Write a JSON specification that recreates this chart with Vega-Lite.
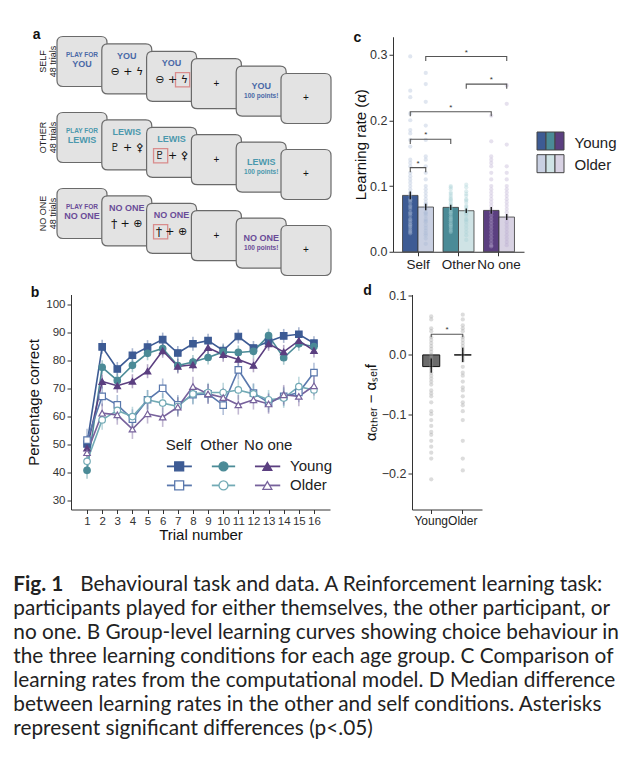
{
"$schema": "https://vega.github.io/schema/vega-lite/v6.json",
"background": "white",
"padding": {"left": 13, "top": 27.5, "right": 0, "bottom": 0},
"config": {
  "view": {"stroke": null},
  "font": "Liberation Sans Narrow, Liberation Sans, sans-serif",
  "axis": {"grid": false, "domainColor": "#333", "tickColor": "#333", "labelColor": "#333", "titleColor": "#111", "tickSize": 4, "labelOverlap": false, "labelFont": "Liberation Sans Narrow, Liberation Sans, sans-serif", "titleFont": "Liberation Sans Narrow, Liberation Sans, sans-serif", "titleFontWeight": "normal", "labelFontSize": 12, "titleFontSize": 15},
  "title": {"font": "Liberation Sans, sans-serif", "fontSize": 14, "fontWeight": "bold", "anchor": "start", "frame": "bounds", "offset": 0, "dy": 12, "color": "#111"}
},
"spacing": 5,
"resolve": {"scale": {"color": "independent", "fill": "independent", "stroke": "independent", "shape": "independent"}},
"datasets": {
  "cards": [
    {"row":"SELF","col":1},{"row":"SELF","col":2},{"row":"SELF","col":3},{"row":"SELF","col":4},{"row":"SELF","col":5},{"row":"SELF","col":6},
    {"row":"OTHER","col":1},{"row":"OTHER","col":2},{"row":"OTHER","col":3},{"row":"OTHER","col":4},{"row":"OTHER","col":5},{"row":"OTHER","col":6},
    {"row":"NO ONE","col":1},{"row":"NO ONE","col":2},{"row":"NO ONE","col":3},{"row":"NO ONE","col":4},{"row":"NO ONE","col":5},{"row":"NO ONE","col":6}
  ],
  "alab": [
    {"row":"SELF","t":"SELF\n48 trials","lx":0.125,"lc":1},
    {"row":"OTHER","t":"OTHER\n48 trials","lx":0.125,"lc":1},
    {"row":"NO ONE","t":"NO ONE\n48 trials","lx":0.125,"lc":1}
  ],
  "ahl": [
    {"row":"SELF","hx":3.245,"hy":3.47},
    {"row":"OTHER","hx":2.755,"hy":3.47},
    {"row":"NO ONE","hx":2.755,"hy":3.47}
  ],
  "atext": [
    {"row":"SELF","col":1,"k":"pf","t":"PLAY FOR"},
    {"row":"SELF","col":1,"k":"n1","t":"YOU"},
    {"row":"SELF","col":2,"k":"nt","t":"YOU"},
    {"row":"SELF","col":3,"k":"nt","t":"YOU"},
    {"row":"SELF","col":2,"k":"sy","t":"⊖ + ϟ"},
    {"row":"SELF","col":3,"k":"sy","t":"⊖ + ϟ"},
    {"row":"SELF","col":4,"k":"pl","t":"+"},
    {"row":"SELF","col":5,"k":"n5","t":"YOU"},
    {"row":"SELF","col":5,"k":"pt","t":"100 points!"},
    {"row":"SELF","col":6,"k":"pl","t":"+"},
    {"row":"OTHER","col":1,"k":"pf","t":"PLAY FOR"},
    {"row":"OTHER","col":1,"k":"n1","t":"LEWIS"},
    {"row":"OTHER","col":2,"k":"nt","t":"LEWIS"},
    {"row":"OTHER","col":3,"k":"nt","t":"LEWIS"},
    {"row":"OTHER","col":2,"k":"sy","t":"♇ + ⚴"},
    {"row":"OTHER","col":3,"k":"sy","t":"♇ + ⚴"},
    {"row":"OTHER","col":4,"k":"pl","t":"+"},
    {"row":"OTHER","col":5,"k":"n5","t":"LEWIS"},
    {"row":"OTHER","col":5,"k":"pt","t":"100 points!"},
    {"row":"OTHER","col":6,"k":"pl","t":"+"},
    {"row":"NO ONE","col":1,"k":"pf","t":"PLAY FOR"},
    {"row":"NO ONE","col":1,"k":"n1","t":"NO ONE"},
    {"row":"NO ONE","col":2,"k":"nt","t":"NO ONE"},
    {"row":"NO ONE","col":3,"k":"nt","t":"NO ONE"},
    {"row":"NO ONE","col":2,"k":"sy","t":"ϯ + ⊕"},
    {"row":"NO ONE","col":3,"k":"sy","t":"ϯ + ⊕"},
    {"row":"NO ONE","col":4,"k":"pl","t":"+"},
    {"row":"NO ONE","col":5,"k":"n5","t":"NO ONE"},
    {"row":"NO ONE","col":5,"k":"pt","t":"100 points!"},
    {"row":"NO ONE","col":6,"k":"pl","t":"+"}
  ],
  "curves": [
    {"g":"SY","t":1,"p":50.1,"e":3},{"g":"SY","t":2,"p":84.8,"e":2.5},{"g":"SY","t":3,"p":76.9,"e":2.5},{"g":"SY","t":4,"p":81.8,"e":2.5},{"g":"SY","t":5,"p":84.7,"e":2.5},{"g":"SY","t":6,"p":87.4,"e":2.5},{"g":"SY","t":7,"p":82.6,"e":2.5},{"g":"SY","t":8,"p":85.9,"e":2.5},{"g":"SY","t":9,"p":87.0,"e":2.5},{"g":"SY","t":10,"p":83.5,"e":2.5},{"g":"SY","t":11,"p":88.5,"e":2.5},{"g":"SY","t":12,"p":84.4,"e":2.5},{"g":"SY","t":13,"p":86.7,"e":2.5},{"g":"SY","t":14,"p":88.7,"e":2.5},{"g":"SY","t":15,"p":89.3,"e":2.5},{"g":"SY","t":16,"p":86.1,"e":2.5},
    {"g":"OY","t":1,"p":40.7,"e":3},{"g":"OY","t":2,"p":77.5,"e":2.5},{"g":"OY","t":3,"p":72.8,"e":2.5},{"g":"OY","t":4,"p":78.2,"e":2.5},{"g":"OY","t":5,"p":82.5,"e":2.5},{"g":"OY","t":6,"p":84.2,"e":2.5},{"g":"OY","t":7,"p":78.1,"e":2.5},{"g":"OY","t":8,"p":79.4,"e":2.5},{"g":"OY","t":9,"p":81.0,"e":2.5},{"g":"OY","t":10,"p":83.0,"e":2.5},{"g":"OY","t":11,"p":82.8,"e":2.5},{"g":"OY","t":12,"p":83.2,"e":2.5},{"g":"OY","t":13,"p":88.8,"e":2.5},{"g":"OY","t":14,"p":80.9,"e":2.5},{"g":"OY","t":15,"p":85.9,"e":2.5},{"g":"OY","t":16,"p":84.9,"e":2.5},
    {"g":"NY","t":1,"p":48.6,"e":3},{"g":"NY","t":2,"p":72.4,"e":2.5},{"g":"NY","t":3,"p":70.9,"e":2.5},{"g":"NY","t":4,"p":72.5,"e":2.5},{"g":"NY","t":5,"p":76.1,"e":2.5},{"g":"NY","t":6,"p":83.4,"e":2.5},{"g":"NY","t":7,"p":77.8,"e":2.5},{"g":"NY","t":8,"p":78.4,"e":2.5},{"g":"NY","t":9,"p":84.5,"e":2.5},{"g":"NY","t":10,"p":82.0,"e":2.5},{"g":"NY","t":11,"p":80.3,"e":2.5},{"g":"NY","t":12,"p":78.2,"e":2.5},{"g":"NY","t":13,"p":85.9,"e":2.5},{"g":"NY","t":14,"p":83.0,"e":2.5},{"g":"NY","t":15,"p":87.0,"e":2.5},{"g":"NY","t":16,"p":83.5,"e":2.5},
    {"g":"SO","t":1,"p":51.5,"e":4},{"g":"SO","t":2,"p":67.1,"e":3.5},{"g":"SO","t":3,"p":64.1,"e":3.5},{"g":"SO","t":4,"p":59.0,"e":3.5},{"g":"SO","t":5,"p":65.9,"e":3.5},{"g":"SO","t":6,"p":70.0,"e":3.5},{"g":"SO","t":7,"p":64.1,"e":3.5},{"g":"SO","t":8,"p":67.7,"e":3.5},{"g":"SO","t":9,"p":68.0,"e":3.5},{"g":"SO","t":10,"p":64.0,"e":3.5},{"g":"SO","t":11,"p":76.6,"e":3.5},{"g":"SO","t":12,"p":68.3,"e":3.5},{"g":"SO","t":13,"p":64.9,"e":3.5},{"g":"SO","t":14,"p":67.1,"e":3.5},{"g":"SO","t":15,"p":68.5,"e":3.5},{"g":"SO","t":16,"p":75.6,"e":3.5},
    {"g":"OO","t":1,"p":43.9,"e":4},{"g":"OO","t":2,"p":58.7,"e":3.5},{"g":"OO","t":3,"p":62.1,"e":3.5},{"g":"OO","t":4,"p":59.9,"e":3.5},{"g":"OO","t":5,"p":65.9,"e":3.5},{"g":"OO","t":6,"p":64.7,"e":3.5},{"g":"OO","t":7,"p":63.5,"e":3.5},{"g":"OO","t":8,"p":68.0,"e":3.5},{"g":"OO","t":9,"p":68.5,"e":3.5},{"g":"OO","t":10,"p":68.5,"e":3.5},{"g":"OO","t":11,"p":69.4,"e":3.5},{"g":"OO","t":12,"p":68.0,"e":3.5},{"g":"OO","t":13,"p":65.9,"e":3.5},{"g":"OO","t":14,"p":66.5,"e":3.5},{"g":"OO","t":15,"p":70.6,"e":3.5},{"g":"OO","t":16,"p":69.4,"e":3.5},
    {"g":"NO","t":1,"p":47.0,"e":4},{"g":"NO","t":2,"p":61.1,"e":3.5},{"g":"NO","t":3,"p":60.5,"e":3.5},{"g":"NO","t":4,"p":55.4,"e":3.5},{"g":"NO","t":5,"p":60.9,"e":3.5},{"g":"NO","t":6,"p":59.7,"e":3.5},{"g":"NO","t":7,"p":63.3,"e":3.5},{"g":"NO","t":8,"p":70.6,"e":3.5},{"g":"NO","t":9,"p":68.0,"e":3.5},{"g":"NO","t":10,"p":66.7,"e":3.5},{"g":"NO","t":11,"p":64.1,"e":3.5},{"g":"NO","t":12,"p":65.9,"e":3.5},{"g":"NO","t":13,"p":64.4,"e":3.5},{"g":"NO","t":14,"p":67.7,"e":3.5},{"g":"NO","t":15,"p":67.1,"e":3.5},{"g":"NO","t":16,"p":70.9,"e":3.5}
  ],
  "bleg": [
    {"g":"SY","t":7.09,"p":42.1,"t1":6.28,"t2":7.93},{"g":"SO","t":7.09,"p":35.3,"t1":6.28,"t2":7.93},
    {"g":"OY","t":10.02,"p":42.1,"t1":9.25,"t2":10.79},{"g":"OO","t":10.02,"p":35.3,"t1":9.25,"t2":10.79},
    {"g":"NY","t":12.92,"p":42.1,"t1":12.1,"t2":13.77},{"g":"NO","t":12.92,"p":35.3,"t1":12.1,"t2":13.77}
  ],
  "bhead": [{"t":7.05,"p":49.6,"s":"Self"},{"t":9.73,"p":49.6,"s":"Other"},{"t":12.98,"p":49.6,"s":"No one"}],
  "brow": [{"t":14.42,"p":42.1,"s":"Young"},{"t":14.42,"p":35.3,"s":"Older"}],
  "cbars": [
    {"c":"Self","a":"Young","g":"SY","v":0.0857,"lo":0.0797,"hi":0.0917},
    {"c":"Self","a":"Older","g":"SO","v":0.068,"lo":0.063,"hi":0.073},
    {"c":"Other","a":"Young","g":"OY","v":0.0675,"lo":0.0635,"hi":0.0715},
    {"c":"Other","a":"Older","g":"OO","v":0.0624,"lo":0.0589,"hi":0.0659},
    {"c":"No one","a":"Young","g":"NY","v":0.0629,"lo":0.0579,"hi":0.0679},
    {"c":"No one","a":"Older","g":"NO","v":0.0528,"lo":0.0483,"hi":0.0573}
  ],
  "cdots": [
    {"c":"Self","a":"Young","v":0.297},{"c":"Self","a":"Young","v":0.245},{"c":"Self","a":"Young","v":0.235},{"c":"Self","a":"Young","v":0.21},{"c":"Self","a":"Young","v":0.2},{"c":"Self","a":"Young","v":0.185},{"c":"Self","a":"Young","v":0.18},{"c":"Self","a":"Young","v":0.17},{"c":"Self","a":"Young","v":0.16},{"c":"Self","a":"Young","v":0.14},{"c":"Self","a":"Young","v":0.135},{"c":"Self","a":"Young","v":0.13},{"c":"Self","a":"Young","v":0.12},{"c":"Self","a":"Young","v":0.115},{"c":"Self","a":"Young","v":0.11},{"c":"Self","a":"Young","v":0.105},{"c":"Self","a":"Young","v":0.1},{"c":"Self","a":"Young","v":0.095},{"c":"Self","a":"Young","v":0.09},{"c":"Self","a":"Young","v":0.088},{"c":"Self","a":"Young","v":0.085},{"c":"Self","a":"Young","v":0.08},{"c":"Self","a":"Young","v":0.078},{"c":"Self","a":"Young","v":0.075},{"c":"Self","a":"Young","v":0.07},{"c":"Self","a":"Young","v":0.068},{"c":"Self","a":"Young","v":0.065},{"c":"Self","a":"Young","v":0.06},{"c":"Self","a":"Young","v":0.058},{"c":"Self","a":"Young","v":0.055},{"c":"Self","a":"Young","v":0.05},{"c":"Self","a":"Young","v":0.048},{"c":"Self","a":"Young","v":0.045},{"c":"Self","a":"Young","v":0.042},{"c":"Self","a":"Young","v":0.04},{"c":"Self","a":"Young","v":0.038},{"c":"Self","a":"Young","v":0.035},{"c":"Self","a":"Young","v":0.032},{"c":"Self","a":"Young","v":0.03},{"c":"Self","a":"Young","v":0.028},
    {"c":"Self","a":"Older","v":0.272},{"c":"Self","a":"Older","v":0.255},{"c":"Self","a":"Older","v":0.228},{"c":"Self","a":"Older","v":0.192},{"c":"Self","a":"Older","v":0.17},{"c":"Self","a":"Older","v":0.145},{"c":"Self","a":"Older","v":0.14},{"c":"Self","a":"Older","v":0.13},{"c":"Self","a":"Older","v":0.12},{"c":"Self","a":"Older","v":0.11},{"c":"Self","a":"Older","v":0.1},{"c":"Self","a":"Older","v":0.095},{"c":"Self","a":"Older","v":0.09},{"c":"Self","a":"Older","v":0.085},{"c":"Self","a":"Older","v":0.08},{"c":"Self","a":"Older","v":0.075},{"c":"Self","a":"Older","v":0.072},{"c":"Self","a":"Older","v":0.07},{"c":"Self","a":"Older","v":0.065},{"c":"Self","a":"Older","v":0.06},{"c":"Self","a":"Older","v":0.058},{"c":"Self","a":"Older","v":0.055},{"c":"Self","a":"Older","v":0.05},{"c":"Self","a":"Older","v":0.047},{"c":"Self","a":"Older","v":0.045},{"c":"Self","a":"Older","v":0.04},{"c":"Self","a":"Older","v":0.036},{"c":"Self","a":"Older","v":0.032},{"c":"Self","a":"Older","v":0.028},{"c":"Self","a":"Older","v":0.025},{"c":"Self","a":"Older","v":0.02},{"c":"Self","a":"Older","v":0.012},
    {"c":"Other","a":"Young","v":0.1},{"c":"Other","a":"Young","v":0.098},{"c":"Other","a":"Young","v":0.095},{"c":"Other","a":"Young","v":0.09},{"c":"Other","a":"Young","v":0.088},{"c":"Other","a":"Young","v":0.085},{"c":"Other","a":"Young","v":0.082},{"c":"Other","a":"Young","v":0.08},{"c":"Other","a":"Young","v":0.078},{"c":"Other","a":"Young","v":0.075},{"c":"Other","a":"Young","v":0.072},{"c":"Other","a":"Young","v":0.07},{"c":"Other","a":"Young","v":0.068},{"c":"Other","a":"Young","v":0.065},{"c":"Other","a":"Young","v":0.062},{"c":"Other","a":"Young","v":0.06},{"c":"Other","a":"Young","v":0.058},{"c":"Other","a":"Young","v":0.055},{"c":"Other","a":"Young","v":0.052},{"c":"Other","a":"Young","v":0.05},{"c":"Other","a":"Young","v":0.048},{"c":"Other","a":"Young","v":0.045},{"c":"Other","a":"Young","v":0.042},{"c":"Other","a":"Young","v":0.04},{"c":"Other","a":"Young","v":0.038},{"c":"Other","a":"Young","v":0.035},{"c":"Other","a":"Young","v":0.032},{"c":"Other","a":"Young","v":0.03},
    {"c":"Other","a":"Older","v":0.102},{"c":"Other","a":"Older","v":0.098},{"c":"Other","a":"Older","v":0.092},{"c":"Other","a":"Older","v":0.088},{"c":"Other","a":"Older","v":0.085},{"c":"Other","a":"Older","v":0.08},{"c":"Other","a":"Older","v":0.078},{"c":"Other","a":"Older","v":0.075},{"c":"Other","a":"Older","v":0.07},{"c":"Other","a":"Older","v":0.068},{"c":"Other","a":"Older","v":0.065},{"c":"Other","a":"Older","v":0.062},{"c":"Other","a":"Older","v":0.06},{"c":"Other","a":"Older","v":0.058},{"c":"Other","a":"Older","v":0.055},{"c":"Other","a":"Older","v":0.05},{"c":"Other","a":"Older","v":0.048},{"c":"Other","a":"Older","v":0.045},{"c":"Other","a":"Older","v":0.04},{"c":"Other","a":"Older","v":0.035},{"c":"Other","a":"Older","v":0.03},{"c":"Other","a":"Older","v":0.025},{"c":"Other","a":"Older","v":0.018},
    {"c":"No one","a":"Young","v":0.207},{"c":"No one","a":"Young","v":0.168},{"c":"No one","a":"Young","v":0.145},{"c":"No one","a":"Young","v":0.14},{"c":"No one","a":"Young","v":0.135},{"c":"No one","a":"Young","v":0.13},{"c":"No one","a":"Young","v":0.12},{"c":"No one","a":"Young","v":0.11},{"c":"No one","a":"Young","v":0.1},{"c":"No one","a":"Young","v":0.095},{"c":"No one","a":"Young","v":0.09},{"c":"No one","a":"Young","v":0.085},{"c":"No one","a":"Young","v":0.08},{"c":"No one","a":"Young","v":0.075},{"c":"No one","a":"Young","v":0.07},{"c":"No one","a":"Young","v":0.065},{"c":"No one","a":"Young","v":0.06},{"c":"No one","a":"Young","v":0.055},{"c":"No one","a":"Young","v":0.05},{"c":"No one","a":"Young","v":0.045},{"c":"No one","a":"Young","v":0.04},{"c":"No one","a":"Young","v":0.035},{"c":"No one","a":"Young","v":0.03},{"c":"No one","a":"Young","v":0.025},{"c":"No one","a":"Young","v":0.02},{"c":"No one","a":"Young","v":0.015},{"c":"No one","a":"Young","v":0.01},{"c":"No one","a":"Young","v":0.008},
    {"c":"No one","a":"Older","v":0.253},{"c":"No one","a":"Older","v":0.225},{"c":"No one","a":"Older","v":0.163},{"c":"No one","a":"Older","v":0.13},{"c":"No one","a":"Older","v":0.12},{"c":"No one","a":"Older","v":0.11},{"c":"No one","a":"Older","v":0.1},{"c":"No one","a":"Older","v":0.095},{"c":"No one","a":"Older","v":0.09},{"c":"No one","a":"Older","v":0.085},{"c":"No one","a":"Older","v":0.08},{"c":"No one","a":"Older","v":0.075},{"c":"No one","a":"Older","v":0.07},{"c":"No one","a":"Older","v":0.065},{"c":"No one","a":"Older","v":0.06},{"c":"No one","a":"Older","v":0.055},{"c":"No one","a":"Older","v":0.05},{"c":"No one","a":"Older","v":0.045},{"c":"No one","a":"Older","v":0.04},{"c":"No one","a":"Older","v":0.035},{"c":"No one","a":"Older","v":0.03},{"c":"No one","a":"Older","v":0.025},{"c":"No one","a":"Older","v":0.02},{"c":"No one","a":"Older","v":0.015},{"c":"No one","a":"Older","v":0.01}
  ],
  "cbrk": [
    {"id":1,"o":0,"c":"Self","a":"Young","v":0.121},{"id":1,"o":1,"c":"Self","a":"Young","v":0.128},{"id":1,"o":2,"c":"Self","a":"Older","v":0.128},{"id":1,"o":3,"c":"Self","a":"Older","v":0.121},
    {"id":2,"o":0,"c":"Self","a":"Young","v":0.164},{"id":2,"o":1,"c":"Self","a":"Young","v":0.171},{"id":2,"o":2,"c":"Other","a":"Young","v":0.171},{"id":2,"o":3,"c":"Other","a":"Young","v":0.164},
    {"id":3,"o":0,"c":"Self","a":"Young","v":0.206},{"id":3,"o":1,"c":"Self","a":"Young","v":0.213},{"id":3,"o":2,"c":"No one","a":"Young","v":0.213},{"id":3,"o":3,"c":"No one","a":"Young","v":0.206},
    {"id":4,"o":0,"c":"Other","a":"Older","v":0.248},{"id":4,"o":1,"c":"Other","a":"Older","v":0.255},{"id":4,"o":2,"c":"No one","a":"Older","v":0.255},{"id":4,"o":3,"c":"No one","a":"Older","v":0.248},
    {"id":5,"o":0,"c":"Self","a":"Older","v":0.29},{"id":5,"o":1,"c":"Self","a":"Older","v":0.297},{"id":5,"o":2,"c":"No one","a":"Older","v":0.297},{"id":5,"o":3,"c":"No one","a":"Older","v":0.29}
  ],
  "cstar": [
    {"c":"Self","a":"Older","v":0.178},{"c":"Other","a":"Young","v":0.219},{"c":"No one","a":"Young","v":0.261},{"c":"Other","a":"Older","v":0.303}
  ],
  "cstar1": [{"c":"Self","v":0.134}],
  "cleg": [
    {"c":"Self","a":"Young","g":"SY"},{"c":"Other","a":"Young","g":"OY"},{"c":"No one","a":"Young","g":"NY"},
    {"c":"Self","a":"Older","g":"SO"},{"c":"Other","a":"Older","g":"OO"},{"c":"No one","a":"Older","g":"NO"}
  ],
  "dbars": [
    {"g":"Young","v":-0.0197,"lo":-0.030,"hi":-0.006},
    {"g":"Older","v":0.0,"lo":-0.012,"hi":0.012}
  ],
  "ddots": [
    {"g":"Young","v":0.065},{"g":"Young","v":0.06},{"g":"Young","v":0.045},{"g":"Young","v":0.04},{"g":"Young","v":0.03},{"g":"Young","v":0.025},{"g":"Young","v":0.02},{"g":"Young","v":0.015},{"g":"Young","v":0.01},{"g":"Young","v":0.005},{"g":"Young","v":0.0},{"g":"Young","v":-0.005},{"g":"Young","v":-0.01},{"g":"Young","v":-0.015},{"g":"Young","v":-0.02},{"g":"Young","v":-0.025},{"g":"Young","v":-0.03},{"g":"Young","v":-0.035},{"g":"Young","v":-0.04},{"g":"Young","v":-0.045},{"g":"Young","v":-0.05},{"g":"Young","v":-0.06},{"g":"Young","v":-0.065},{"g":"Young","v":-0.07},{"g":"Young","v":-0.08},{"g":"Young","v":-0.095},{"g":"Young","v":-0.1},{"g":"Young","v":-0.11},{"g":"Young","v":-0.12},{"g":"Young","v":-0.13},{"g":"Young","v":-0.135},{"g":"Young","v":-0.145},{"g":"Young","v":-0.155},{"g":"Young","v":-0.165},{"g":"Young","v":-0.175},{"g":"Young","v":-0.21},
    {"g":"Older","v":0.068},{"g":"Older","v":0.06},{"g":"Older","v":0.05},{"g":"Older","v":0.045},{"g":"Older","v":0.04},{"g":"Older","v":0.03},{"g":"Older","v":0.025},{"g":"Older","v":0.02},{"g":"Older","v":0.015},{"g":"Older","v":0.01},{"g":"Older","v":0.005},{"g":"Older","v":0.0},{"g":"Older","v":-0.005},{"g":"Older","v":-0.01},{"g":"Older","v":-0.02},{"g":"Older","v":-0.03},{"g":"Older","v":-0.035},{"g":"Older","v":-0.045},{"g":"Older","v":-0.055},{"g":"Older","v":-0.06},{"g":"Older","v":-0.07},{"g":"Older","v":-0.08},{"g":"Older","v":-0.085},{"g":"Older","v":-0.095},{"g":"Older","v":-0.11},{"g":"Older","v":-0.145},{"g":"Older","v":-0.175},{"g":"Older","v":-0.195}
  ],
  "dbrk": [
    {"o":0,"g":"Young","v":0.03},{"o":1,"g":"Young","v":0.035},{"o":2,"g":"Older","v":0.035},{"o":3,"g":"Older","v":0.03}
  ],
  "dstar": [{"g":"Young","v":0.042}],
  "cap": [
    {"ln":1,"t":"Behavioural task and data. A Reinforcement learning task:"},
    {"ln":2,"t":"participants played for either themselves, the other participant, or"},
    {"ln":3,"t":"no one. B Group-level learning curves showing choice behaviour in"},
    {"ln":4,"t":"the three learning conditions for each age group. C Comparison of"},
    {"ln":5,"t":"learning rates from the computational model. D Median difference"},
    {"ln":6,"t":"between learning rates in the other and self conditions. Asterisks"},
    {"ln":7,"t":"represent significant differences (p<.05)"}
  ]
},
"vconcat": [
  {
    "hconcat": [
      {
        "title": {"text": "a", "dx": -6},
        "width": 262, "height": 228,
        "encoding": {
          "x": {"field": "col", "type": "quantitative", "scale": {"domain": [0.7545, 6.6027], "zero": false, "nice": false}, "axis": null},
          "y": {"field": "row", "type": "nominal", "scale": {"domain": ["SELF","OTHER","NO ONE"], "paddingInner": 0, "paddingOuter": 0}, "axis": null},
          "yOffset": {"field": "col", "type": "quantitative", "scale": {"domain": [-2.378, 7.892], "zero": false, "nice": false}}
        },
        "layer": [
          {"data": {"name": "cards"}, "mark": {"type": "point", "shape": "M-1,-0.76Q-1,-1,-0.76,-1L0.76,-1Q1,-1,1,-0.76L1,0.76Q1,1,0.76,1L-0.76,1Q-1,1,-1,0.76Z", "filled": true, "fill": "#e3e3e3", "stroke": "#6a6a6a", "strokeWidth": 1.2, "size": 2500, "opacity": 1}},
          {"data": {"name": "ahl"}, "mark": {"type": "point", "shape": "square", "filled": false, "stroke": "#d98c8c", "strokeWidth": 1.3, "size": 200, "opacity": 1},
           "encoding": {"x": {"field": "hx", "type": "quantitative", "scale": {"domain": [0.7545, 6.6027], "zero": false, "nice": false}, "axis": null}, "yOffset": {"field": "hy", "type": "quantitative", "scale": {"domain": [-2.378, 7.892], "zero": false, "nice": false}}}},
          {"data": {"name": "alab"}, "mark": {"type": "text", "angle": 270, "lineBreak": "\n", "fontSize": 9, "lineHeight": 10, "color": "#222", "font": "Liberation Sans, sans-serif"},
           "encoding": {"x": {"field": "lx", "type": "quantitative", "scale": {"domain": [0.7545, 6.6027], "zero": false, "nice": false}, "axis": null}, "yOffset": {"field": "lc", "type": "quantitative", "scale": {"domain": [-2.378, 7.892], "zero": false, "nice": false}}, "text": {"field": "t"}}},
          {"data": {"name": "atext"}, "transform": [{"filter": "datum.k == 'pf'"}], "mark": {"type": "text", "fontSize": 6.5, "fontWeight": "bold", "dy": -6, "font": "Liberation Sans, sans-serif"},
           "encoding": {"text": {"field": "t"}, "color": {"field": "row", "type": "nominal", "scale": {"domain": ["SELF","OTHER","NO ONE"], "range": ["#4a69a7","#4b98ad","#6a4c98"]}, "legend": null}}},
          {"data": {"name": "atext"}, "transform": [{"filter": "datum.k == 'n1'"}], "mark": {"type": "text", "fontSize": 9, "fontWeight": "bold", "dy": 3, "font": "Liberation Sans, sans-serif"},
           "encoding": {"text": {"field": "t"}, "color": {"field": "row", "type": "nominal", "scale": {"domain": ["SELF","OTHER","NO ONE"], "range": ["#4a69a7","#4b98ad","#6a4c98"]}, "legend": null}}},
          {"data": {"name": "atext"}, "transform": [{"filter": "datum.k == 'nt'"}], "mark": {"type": "text", "fontSize": 9, "fontWeight": "bold", "dy": -13, "font": "Liberation Sans, sans-serif"},
           "encoding": {"text": {"field": "t"}, "color": {"field": "row", "type": "nominal", "scale": {"domain": ["SELF","OTHER","NO ONE"], "range": ["#4a69a7","#4b98ad","#6a4c98"]}, "legend": null}}},
          {"data": {"name": "atext"}, "transform": [{"filter": "datum.k == 'n5'"}], "mark": {"type": "text", "fontSize": 9, "fontWeight": "bold", "dy": -5, "font": "Liberation Sans, sans-serif"},
           "encoding": {"text": {"field": "t"}, "color": {"field": "row", "type": "nominal", "scale": {"domain": ["SELF","OTHER","NO ONE"], "range": ["#4a69a7","#4b98ad","#6a4c98"]}, "legend": null}}},
          {"data": {"name": "atext"}, "transform": [{"filter": "datum.k == 'pt'"}], "mark": {"type": "text", "fontSize": 6.5, "fontWeight": "bold", "dy": 5, "font": "Liberation Sans, sans-serif"},
           "encoding": {"text": {"field": "t"}, "color": {"field": "row", "type": "nominal", "scale": {"domain": ["SELF","OTHER","NO ONE"], "range": ["#4a69a7","#4b98ad","#6a4c98"]}, "legend": null}}},
          {"data": {"name": "atext"}, "transform": [{"filter": "datum.k == 'sy'"}], "mark": {"type": "text", "fontSize": 11, "dy": 3.5, "color": "#111", "font": "DejaVu Sans, sans-serif"},
           "encoding": {"text": {"field": "t"}}},
          {"data": {"name": "atext"}, "transform": [{"filter": "datum.k == 'pl'"}], "mark": {"type": "text", "fontSize": 10, "dy": 0, "color": "#111", "font": "Liberation Sans, sans-serif"},
           "encoding": {"text": {"field": "t"}}}
        ]
      },
      {
        "hconcat": [
          {
            "title": {"text": "c"},
            "width": 131, "height": 215,
            "layer": [
              {"data": {"name": "cbars"}, "mark": {"type": "bar", "stroke": "#3a3a3a", "strokeWidth": 0.8},
               "encoding": {
                 "x": {"field": "c", "type": "nominal", "title": null, "scale": {"domain": ["Self","Other","No one"], "paddingInner": 0.235, "paddingOuter": 0.235}, "axis": {"title": null, "labelFontSize": 13.5, "labelAngle": 0, "labelColor": "#222", "labelPadding": 2, "labelOverlap": false}},
                 "xOffset": {"field": "a", "type": "nominal", "scale": {"domain": ["Young","Older"], "paddingInner": 0, "paddingOuter": 0}},
                 "y": {"field": "v", "type": "quantitative", "title": "Learning rate (α)", "scale": {"domain": [0, 0.327], "nice": false, "zero": false}, "axis": {"values": [0, 0.1, 0.2, 0.3], "tickCount": 10, "format": ".1f", "title": "Learning rate (α)", "labelFontSize": 12.5, "titlePadding": 1, "labelOverlap": false}},
                 "y2": {"datum": 0},
                 "fill": {"field": "g", "type": "nominal", "scale": {"domain": ["SY","SO","OY","OO","NY","NO"], "range": ["#3d5b94","#c9d0e2","#4b8b97","#cfe3e5","#5b3f80","#d8d2e3"]}, "legend": null}
               }},
              {"data": {"name": "cdots"}, "mark": {"type": "circle", "size": 18, "opacity": 0.35},
               "encoding": {
                 "x": {"field": "c", "type": "nominal", "title": null},
                 "xOffset": {"field": "a", "type": "nominal"},
                 "y": {"field": "v", "type": "quantitative", "title": "Learning rate (α)"},
                 "color": {"field": "c", "type": "nominal", "scale": {"domain": ["Self","Other","No one"], "range": ["#a7b6d4","#a4cdd4","#b6a8cf"]}, "legend": null}
               }},
              {"data": {"name": "cbars"}, "mark": {"type": "rule", "color": "#111", "strokeWidth": 1.3},
               "encoding": {
                 "x": {"field": "c", "type": "nominal", "title": null},
                 "xOffset": {"field": "a", "type": "nominal"},
                 "y": {"field": "lo", "type": "quantitative", "title": "Learning rate (α)"},
                 "y2": {"field": "hi"}
               }},
              {"data": {"name": "cbrk"}, "mark": {"type": "line", "color": "#555", "strokeWidth": 1.1},
               "encoding": {
                 "x": {"field": "c", "type": "nominal", "title": null},
                 "xOffset": {"field": "a", "type": "nominal"},
                 "y": {"field": "v", "type": "quantitative", "title": "Learning rate (α)"},
                 "detail": {"field": "id", "type": "nominal"},
                 "order": {"field": "o", "type": "quantitative"}
               }},
              {"data": {"name": "cstar"}, "mark": {"type": "text", "text": "*", "fontSize": 8, "color": "#333"},
               "encoding": {
                 "x": {"field": "c", "type": "nominal", "title": null},
                 "xOffset": {"field": "a", "type": "nominal"},
                 "y": {"field": "v", "type": "quantitative", "title": "Learning rate (α)"}
               }},
              {"data": {"name": "cstar1"}, "mark": {"type": "text", "text": "*", "fontSize": 8, "color": "#333"},
               "encoding": {
                 "x": {"field": "c", "type": "nominal", "title": null},
                 "y": {"field": "v", "type": "quantitative", "title": "Learning rate (α)"}
               }}
            ]
          },
          {
            "width": 27, "height": 44,
            "data": {"name": "cleg"},
            "encoding": {
              "x": {"field": "c", "type": "nominal", "scale": {"domain": ["Self","Other","No one"], "paddingInner": 0, "paddingOuter": 0}, "axis": null},
              "y": {"field": "a", "type": "nominal", "scale": {"domain": ["Young","Older"], "paddingInner": 0.06, "paddingOuter": 0}, "axis": null}
            },
            "layer": [
              {"mark": {"type": "rect", "stroke": "#444", "strokeWidth": 1},
               "encoding": {"fill": {"field": "g", "type": "nominal", "scale": {"domain": ["SY","SO","OY","OO","NY","NO"], "range": ["#3d5b94","#c9d0e2","#4b8b97","#cfe3e5","#5b3f80","#d8d2e3"]}, "legend": null}}},
              {"transform": [{"filter": "datum.c == 'No one'"}], "mark": {"type": "text", "align": "left", "dx": 15, "fontSize": 15, "color": "#222"},
               "encoding": {"text": {"field": "a"}}}
            ]
          }
        ],
        "spacing": 12,
        "center": true,
        "resolve": {"scale": {"color": "independent", "fill": "independent", "stroke": "independent", "shape": "independent"}}
      }
    ],
    "spacing": 19,
    "resolve": {"scale": {"color": "independent", "fill": "independent", "stroke": "independent", "shape": "independent"}}
  },
  {
    "hconcat": [
      {
        "title": {"text": "b", "dy": 9, "dx": 4},
        "width": 259, "height": 215,
        "layer": [
          {"data": {"name": "curves"}, "mark": {"type": "line", "strokeWidth": 1.6},
           "encoding": {
             "x": {"field": "t", "type": "quantitative", "title": "Trial number", "scale": {"domain": [-0.06, 17.06], "nice": false, "zero": false}, "axis": {"values": [1,2,3,4,5,6,7,8,9,10,11,12,13,14,15,16], "tickCount": 20, "title": "Trial number", "labelFontSize": 11.5, "labelPadding": 2, "titlePadding": 0, "labelOverlap": false, "labelFlush": false}},
             "y": {"field": "p", "type": "quantitative", "title": "Percentage correct", "scale": {"domain": [26.7, 103.5], "nice": false, "zero": false}, "axis": {"values": [30,40,50,60,70,80,90,100], "tickCount": 10, "title": "Percentage correct", "labelFontSize": 11.5, "titlePadding": 4, "labelOverlap": false, "labelFlush": false}},
             "stroke": {"field": "g", "type": "nominal", "scale": {"domain": ["SY","SO","OY","OO","NY","NO"], "range": ["#3d5b94","#5a78ad","#4b8b97","#72aab5","#5b3f80","#77629c"]}, "legend": null}
           }},
          {"data": {"name": "curves"}, "mark": {"type": "errorbar", "ticks": false, "thickness": 1.6, "opacity": 0.45},
           "encoding": {
             "x": {"field": "t", "type": "quantitative", "title": "Trial number"},
             "y": {"field": "p", "type": "quantitative", "title": "Percentage correct"},
             "yError": {"field": "e"},
             "color": {"field": "g", "type": "nominal", "scale": {"domain": ["SY","SO","OY","OO","NY","NO"], "range": ["#3d5b94","#5a78ad","#4b8b97","#72aab5","#5b3f80","#77629c"]}, "legend": null}
           }},
          {"data": {"name": "curves"}, "mark": {"type": "point", "filled": true, "opacity": 1, "size": 42, "strokeWidth": 1.2},
           "encoding": {
             "x": {"field": "t", "type": "quantitative", "title": "Trial number"},
             "y": {"field": "p", "type": "quantitative", "title": "Percentage correct"},
             "stroke": {"field": "g", "type": "nominal", "scale": {"domain": ["SY","SO","OY","OO","NY","NO"], "range": ["#3d5b94","#5a78ad","#4b8b97","#72aab5","#5b3f80","#77629c"]}, "legend": null},
             "fill": {"field": "g", "type": "nominal", "scale": {"domain": ["SY","SO","OY","OO","NY","NO"], "range": ["#3d5b94","#ffffff","#4b8b97","#ffffff","#5b3f80","#ffffff"]}, "legend": null},
             "shape": {"field": "g", "type": "nominal", "scale": {"domain": ["SY","SO","OY","OO","NY","NO"], "range": ["square","square","circle","circle","triangle-up","triangle-up"]}, "legend": null}
           }},
          {"data": {"name": "bleg"}, "mark": {"type": "rule", "strokeWidth": 1.8},
           "encoding": {
             "x": {"field": "t1", "type": "quantitative", "title": "Trial number"},
             "x2": {"field": "t2"},
             "y": {"field": "p", "type": "quantitative", "title": "Percentage correct"},
             "stroke": {"field": "g", "type": "nominal", "scale": {"domain": ["SY","SO","OY","OO","NY","NO"], "range": ["#3d5b94","#5a78ad","#4b8b97","#72aab5","#5b3f80","#77629c"]}, "legend": null}
           }},
          {"data": {"name": "bleg"}, "mark": {"type": "point", "filled": true, "opacity": 1, "size": 80, "strokeWidth": 1.3},
           "encoding": {
             "x": {"field": "t", "type": "quantitative", "title": "Trial number"},
             "y": {"field": "p", "type": "quantitative", "title": "Percentage correct"},
             "stroke": {"field": "g", "type": "nominal", "scale": {"domain": ["SY","SO","OY","OO","NY","NO"], "range": ["#3d5b94","#5a78ad","#4b8b97","#72aab5","#5b3f80","#77629c"]}, "legend": null},
             "fill": {"field": "g", "type": "nominal", "scale": {"domain": ["SY","SO","OY","OO","NY","NO"], "range": ["#3d5b94","#ffffff","#4b8b97","#ffffff","#5b3f80","#ffffff"]}, "legend": null},
             "shape": {"field": "g", "type": "nominal", "scale": {"domain": ["SY","SO","OY","OO","NY","NO"], "range": ["square","square","circle","circle","triangle-up","triangle-up"]}, "legend": null}
           }},
          {"data": {"name": "bhead"}, "mark": {"type": "text", "fontSize": 15, "color": "#222"},
           "encoding": {
             "x": {"field": "t", "type": "quantitative", "title": "Trial number"},
             "y": {"field": "p", "type": "quantitative", "title": "Percentage correct"},
             "text": {"field": "s"}
           }},
          {"data": {"name": "brow"}, "mark": {"type": "text", "fontSize": 15, "align": "left", "color": "#222"},
           "encoding": {
             "x": {"field": "t", "type": "quantitative", "title": "Trial number"},
             "y": {"field": "p", "type": "quantitative", "title": "Percentage correct"},
             "text": {"field": "s"}
           }}
        ]
      },
      {
        "title": {"text": "d"},
        "width": 70, "height": 215,
        "layer": [
          {"data": {"name": "dbars"}, "mark": {"type": "bar", "fill": "#6b6b6b", "stroke": "#111", "strokeWidth": 1},
           "encoding": {
             "x": {"field": "g", "type": "nominal", "title": null, "scale": {"domain": ["Young","Older"], "paddingInner": 0.46, "paddingOuter": 0.34}, "axis": {"title": null, "labelFontSize": 12, "labelAngle": 0, "labelColor": "#222", "labelPadding": 2, "labelOverlap": false}},
             "y": {"field": "v", "type": "quantitative", "title": "αₒₜₕₑᵣ − αₛₑₗf", "scale": {"domain": [-0.261, 0.102], "nice": false, "zero": false}, "axis": {"values": [-0.2, -0.1, 0, 0.1], "tickCount": 10, "format": ".1f", "title": "αₒₜₕₑᵣ − αₛₑₗf", "labelFontSize": 12.5, "titlePadding": 3, "labelOverlap": false}},
             "y2": {"datum": 0}
           }},
          {"data": {"name": "ddots"}, "mark": {"type": "circle", "size": 18, "opacity": 0.35, "color": "#9a9a9a"},
           "encoding": {
             "x": {"field": "g", "type": "nominal", "title": null},
             "y": {"field": "v", "type": "quantitative", "title": "αₒₜₕₑᵣ − αₛₑₗf"}
           }},
          {"data": {"name": "dbars"}, "mark": {"type": "rule", "color": "#111", "strokeWidth": 1.3},
           "encoding": {
             "x": {"field": "g", "type": "nominal", "title": null},
             "y": {"field": "lo", "type": "quantitative", "title": "αₒₜₕₑᵣ − αₛₑₗf"},
             "y2": {"field": "hi"}
           }},
          {"data": {"name": "dbrk"}, "mark": {"type": "line", "color": "#555", "strokeWidth": 1.1},
           "encoding": {
             "x": {"field": "g", "type": "nominal", "title": null},
             "y": {"field": "v", "type": "quantitative", "title": "αₒₜₕₑᵣ − αₛₑₗf"},
             "order": {"field": "o", "type": "quantitative"}
           }},
          {"data": {"name": "dstar"}, "mark": {"type": "text", "text": "*", "fontSize": 8, "dx": 15.8, "color": "#333"},
           "encoding": {
             "x": {"field": "g", "type": "nominal", "title": null},
             "y": {"field": "v", "type": "quantitative", "title": "αₒₜₕₑᵣ − αₛₑₗf"}
           }}
        ]
      }
    ],
    "spacing": 30,
    "resolve": {"scale": {"color": "independent", "fill": "independent", "stroke": "independent", "shape": "independent"}}
  },
  {
    "width": 540, "height": 194,
    "data": {"name": "cap"},
    "encoding": {
      "y": {"field": "ln", "type": "quantitative", "scale": {"domain": [-0.58, 7.5], "reverse": true, "zero": false, "nice": false}, "axis": null},
      "x": {"datum": 0, "type": "quantitative", "scale": {"domain": [0, 1]}, "axis": null}
    },
    "layer": [
      {"transform": [{"filter": "datum.ln == 1"}], "mark": {"type": "text", "text": "Fig. 1", "font": "Lato", "fontWeight": "bold", "fontSize": 20.8, "align": "left", "dx": -57.7, "color": "#222"}},
      {"transform": [{"filter": "datum.ln == 1"}], "mark": {"type": "text", "font": "Lato", "fontSize": 20.8, "align": "left", "dx": 9.3, "color": "#222"}, "encoding": {"text": {"field": "t"}}},
      {"transform": [{"filter": "datum.ln > 1"}], "mark": {"type": "text", "font": "Lato", "fontSize": 20.8, "align": "left", "dx": -57.7, "color": "#222"}, "encoding": {"text": {"field": "t"}}}
    ]
  }
]
}
